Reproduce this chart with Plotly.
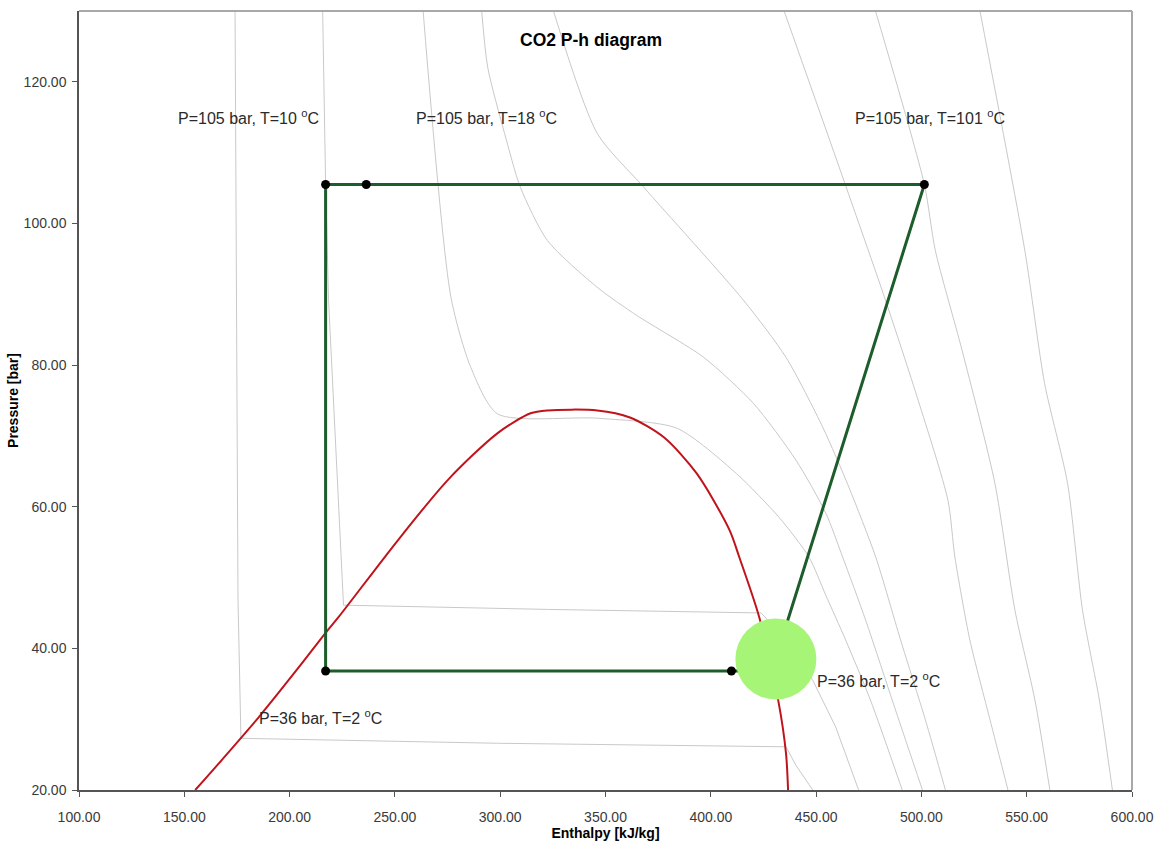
import plotly.graph_objects as go

# ---- Saturation dome (enthalpy kJ/kg, pressure bar) ----
sat_h = [155.2, 166.5, 185.4, 204.3, 217.1, 223.2, 251.5, 275.2, 298.8, 314.4, 322.5,
         346.1, 361.6, 377.7, 393.3, 408.9, 413.5, 423.0, 432.0, 435.7, 436.7]
sat_p = [20.0, 23.8, 30.3, 37.3, 42.2, 44.4, 55.3, 63.8, 70.4, 73.2, 73.6,
         73.6, 72.6, 69.8, 64.7, 56.7, 52.9, 44.4, 32.7, 25.2, 20.0]

# ---- Isotherms (grey) ----
iso1_h = [174.1, 175.5, 176.9, 298.8, 435.7, 440.4, 448.4]
iso1_p = [130.0, 46.8, 27.3, 26.6, 26.1, 23.5, 20.0]

iso2_h = [215.7, 217.1, 218.5, 225.6, 322.5, 423.9, 438.0, 448.4, 459.3, 470.2]
iso2_p = [130.0, 105.5, 89.2, 46.1, 45.5, 45.0, 40.5, 35.5, 28.9, 20.0]

iso3_h = [263.4, 276.6, 286.0, 298.8, 346.1, 383.8, 412.1, 432.4, 446.6, 454.6, 464.0, 475.8, 490.9]
iso3_p = [130.0, 89.6, 79.7, 73.1, 72.5, 71.1, 64.7, 58.5, 52.9, 47.5, 41.2, 32.7, 20.0]

iso4_h = [291.2, 294.1, 302.1, 309.6, 322.4, 346.0, 364.9, 396.6, 420.2, 440.4, 454.6,
          462.6, 473.5, 487.7, 500.5]
iso4_p = [130.0, 122.0, 112.7, 105.1, 97.6, 91.0, 87.0, 81.1, 74.6, 66.6, 59.1,
          52.9, 44.0, 31.3, 20.0]

iso5_h = [325.3, 346.1, 368.2, 415.4, 435.7, 453.2, 465.5, 478.3, 490.1, 501.9, 511.4]
iso5_p = [130.0, 112.7, 105.1, 89.2, 81.1, 71.2, 62.8, 52.9, 41.2, 29.9, 20.0]

iso6_h = [434.8, 458.3, 482.9, 498.5, 512.6, 515.9, 523.0, 532.6, 541.1]
iso6_p = [130.0, 110.2, 89.2, 75.0, 60.9, 52.9, 41.2, 29.9, 20.0]

iso7_h = [478.2, 501.4, 506.6, 519.3, 534.9, 544.4, 553.9, 561.0]
iso7_p = [130.0, 105.5, 96.2, 82.1, 63.3, 45.4, 32.7, 20.0]

iso8_h = [527.8, 549.1, 558.5, 569.4, 576.5, 584.5, 590.7]
iso8_p = [130.0, 96.2, 77.4, 63.3, 45.4, 32.7, 20.0]

# (h, p, line shape) — isotherms with sharp saturation corners stay linear
isotherms = [(iso1_h, iso1_p, "linear"), (iso2_h, iso2_p, "linear"),
             (iso3_h, iso3_p, "spline"), (iso4_h, iso4_p, "spline"),
             (iso5_h, iso5_p, "spline"), (iso6_h, iso6_p, "spline"),
             (iso7_h, iso7_p, "spline"), (iso8_h, iso8_p, "spline")]

# ---- Refrigeration cycle ----
cycle_h = [217.1, 236.4, 501.4, 429.0, 409.8, 217.1, 217.1]
cycle_p = [105.5, 105.5, 105.5, 36.8, 36.8, 36.8, 105.5]
state_h = [217.1, 236.4, 501.4, 217.1, 409.8]
state_p = [105.5, 105.5, 105.5, 36.8, 36.8]

# ---- Highlight circle ----
spot_h = [430.9]
spot_p = [38.5]

# ---- Labels ----
label_text = ["P=105 bar, T=10 <sup>o</sup>C", "P=105 bar, T=18 <sup>o</sup>C",
              "P=105 bar, T=101 <sup>o</sup>C", "P=36 bar, T=2 <sup>o</sup>C",
              "P=36 bar, T=2 <sup>o</sup>C"]
label_h = [180.7, 293.4, 504.1, 214.7, 479.5]
label_p = [115.0, 115.0, 115.0, 30.3, 35.5]

x_ticks = [100, 150, 200, 250, 300, 350, 400, 450, 500, 550, 600]
y_ticks = [20, 40, 60, 80, 100, 120]

FONT = "Liberation Sans, Arial, sans-serif"

fig = go.Figure()

for hh, pp, shape in isotherms:
    fig.add_trace(go.Scatter(x=hh, y=pp, mode="lines",
                             line=dict(color="#c9c9c9", width=1, shape=shape, smoothing=0.7),
                             hoverinfo="skip", showlegend=False))

fig.add_trace(go.Scatter(x=sat_h, y=sat_p, mode="lines",
                         line=dict(color="#c0141c", width=2, shape="spline", smoothing=0.8),
                         showlegend=False))

fig.add_trace(go.Scatter(x=cycle_h, y=cycle_p, mode="lines",
                         line=dict(color="#1d5c2b", width=3),
                         showlegend=False))

fig.add_trace(go.Scatter(x=state_h, y=state_p, mode="markers",
                         marker=dict(color="black", size=9),
                         showlegend=False))

fig.add_trace(go.Scatter(x=spot_h, y=spot_p, mode="markers",
                         marker=dict(color="#a6f576", size=81, line=dict(width=0)),
                         showlegend=False))

for t, hx, py in zip(label_text, label_h, label_p):
    fig.add_annotation(x=hx, y=py, text=t, showarrow=False,
                       font=dict(family=FONT, size=16, color="#2a2a2a"),
                       xanchor="center", yanchor="middle")

fig.update_layout(
    width=1165, height=847,
    margin=dict(l=79, r=27, t=11, b=57),
    paper_bgcolor="white", plot_bgcolor="white",
    font=dict(family=FONT, color="#333333"),
    title=dict(text="<b>CO2 P-h diagram</b>", x=591 / 1165, xref="container",
               y=1 - 40 / 847, yref="container", xanchor="center", yanchor="middle",
               font=dict(family=FONT, size=17.5, color="black")),
    showlegend=False,
    shapes=[
        dict(type="line", xref="paper", yref="paper", x0=0, x1=1, y0=1, y1=1,
             line=dict(color="#a8a8a8", width=2)),
        dict(type="line", xref="paper", yref="paper", x0=1, x1=1, y0=0, y1=1,
             line=dict(color="#a8a8a8", width=2)),
    ],
)

fig.update_xaxes(range=[100, 600], tickvals=x_ticks, tickformat=".2f",
                 showgrid=False, zeroline=False, showline=True, linecolor="#555555",
                 linewidth=1.5, ticks="outside", ticklen=5, tickcolor="#555555",
                 tickfont=dict(family=FONT, size=14, color="#3a3a3a"),
                 ticklabelstandoff=8,
                 title=dict(text="<b>Enthalpy [kJ/kg]</b>", standoff=2,
                            font=dict(family=FONT, size=14, color="black")))
fig.update_yaxes(range=[20, 130], tickvals=y_ticks, tickformat=".2f",
                 showgrid=False, zeroline=False, showline=True, linecolor="#555555",
                 linewidth=1.5, ticks="outside", ticklen=5, tickcolor="#555555",
                 tickfont=dict(family=FONT, size=14, color="#3a3a3a"),
                 ticklabelstandoff=3,
                 title=dict(text="<b>Pressure [bar]</b>", standoff=2,
                            font=dict(family=FONT, size=14, color="black")))

fig.write_html("out.html")
